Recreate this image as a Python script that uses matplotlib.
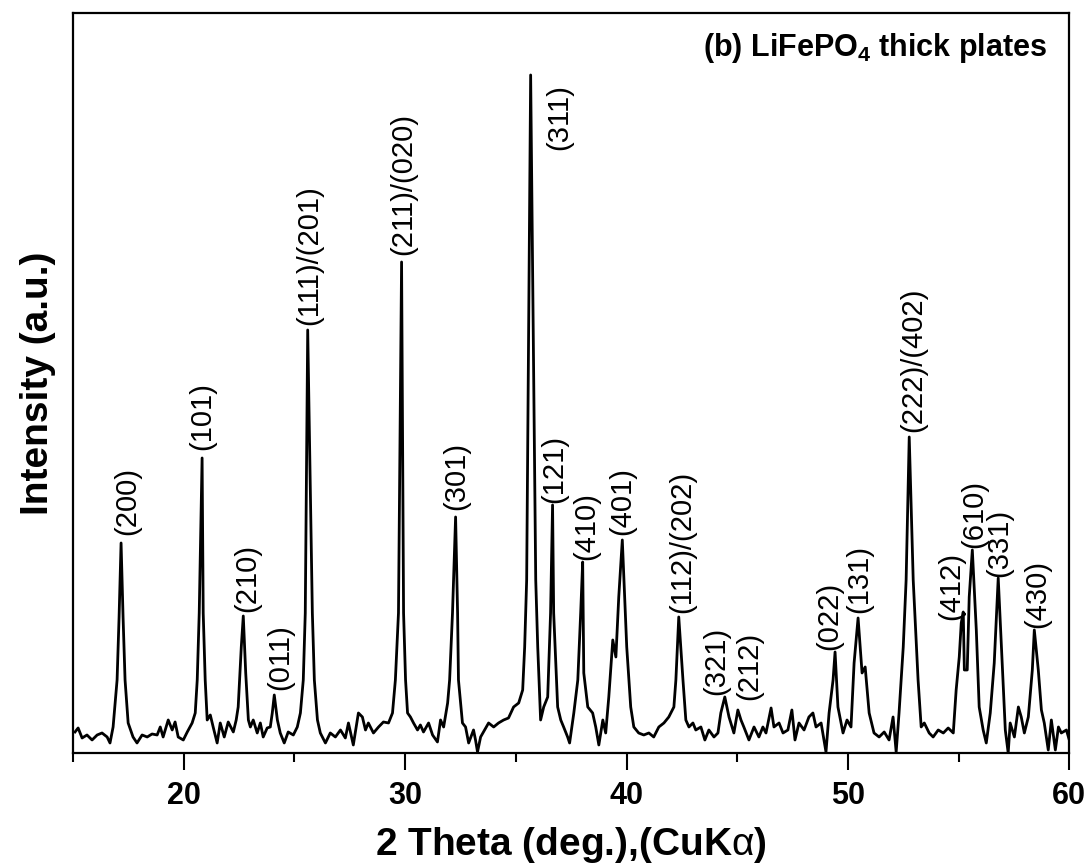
import matplotlib
matplotlib.use("Agg")
import matplotlib.pyplot as plt
from matplotlib.ticker import MultipleLocator

plt.rcParams['font.family'] = ['Liberation Sans', 'DejaVu Sans']
plt.rcParams['mathtext.fontset'] = 'custom'
plt.rcParams['mathtext.rm'] = 'Liberation Sans:bold'
plt.rcParams['mathtext.it'] = 'Liberation Sans'

# XRD pattern (2 theta in degrees, intensity in a.u.)
two_theta = [
    15.09, 15.23, 15.41, 15.63, 15.86, 16.09, 16.31, 16.54, 16.67, 16.81,
    16.99, 17.08, 17.17, 17.26, 17.35, 17.49, 17.71, 17.89, 18.12, 18.35,
    18.57, 18.80, 18.94, 19.07, 19.30, 19.48, 19.61, 19.75, 19.98, 20.16,
    20.38, 20.52, 20.61, 20.70, 20.83, 20.88, 20.97, 21.06, 21.20, 21.33,
    21.51, 21.65, 21.83, 22.01, 22.24, 22.37, 22.46, 22.60, 22.69, 22.80,
    22.92, 23.01, 23.14, 23.32, 23.46, 23.59, 23.77, 23.91, 24.00, 24.09,
    24.23, 24.36, 24.54, 24.72, 24.95, 25.13, 25.27, 25.40, 25.49, 25.60,
    25.81, 25.90, 26.04, 26.17, 26.40, 26.62, 26.85, 27.08, 27.30, 27.44,
    27.66, 27.89, 28.07, 28.21, 28.34, 28.57, 28.80, 29.02, 29.25, 29.43,
    29.56, 29.70, 29.84, 29.93, 30.02, 30.11, 30.24, 30.38, 30.56, 30.69,
    30.83, 31.06, 31.24, 31.46, 31.60, 31.74, 31.92, 32.01, 32.14, 32.28,
    32.37, 32.41, 32.59, 32.73, 32.87, 33.09, 33.18, 33.27, 33.41, 33.54,
    33.77, 34.00, 34.22, 34.45, 34.67, 34.90, 35.13, 35.31, 35.40, 35.49,
    35.67, 35.90, 35.99, 36.12, 36.26, 36.44, 36.57, 36.66, 36.71, 36.89,
    37.03, 37.16, 37.34, 37.43, 37.62, 37.80, 37.93, 38.02, 38.07, 38.25,
    38.47, 38.61, 38.75, 38.93, 39.06, 39.20, 39.38, 39.52, 39.65, 39.81,
    40.01, 40.19, 40.33, 40.55, 40.78, 41.01, 41.23, 41.46, 41.69, 41.91,
    42.14, 42.23, 42.36, 42.55, 42.68, 42.82, 43.00, 43.13, 43.36, 43.54,
    43.72, 43.95, 44.13, 44.26, 44.44, 44.63, 44.85, 45.03, 45.17, 45.30,
    45.53, 45.76, 45.98, 46.16, 46.30, 46.53, 46.66, 46.89, 47.07, 47.29,
    47.47, 47.61, 47.79, 48.02, 48.24, 48.42, 48.56, 48.79, 49.01, 49.15,
    49.33, 49.42, 49.55, 49.78, 49.96, 50.14, 50.28, 50.46, 50.64, 50.78,
    50.96, 51.18, 51.41, 51.64, 51.86, 52.04, 52.18, 52.31, 52.50, 52.63,
    52.77, 52.95, 53.17, 53.31, 53.45, 53.67, 53.85, 54.08, 54.31, 54.53,
    54.76, 54.89, 55.03, 55.12, 55.21, 55.26, 55.39, 55.48, 55.62, 55.80,
    55.93, 56.11, 56.25, 56.43, 56.61, 56.79, 56.97, 57.11, 57.24, 57.33,
    57.52, 57.70, 57.83, 57.97, 58.15, 58.33, 58.42, 58.60, 58.74, 58.87,
    59.05, 59.19, 59.37, 59.51, 59.64, 59.87, 60.00,
]
intensity = [
    21, 25, 15, 18, 13, 18, 20, 16, 10, 26,
    73, 136, 210, 136, 73, 30, 16, 10, 18, 16,
    19, 18, 26, 16, 33, 23, 31, 16, 13, 21,
    30, 40, 73, 140, 295, 140, 73, 33, 38, 26,
    10, 30, 16, 31, 21, 33, 46, 106, 137, 80,
    33, 26, 33, 20, 30, 16, 25, 26, 40, 58,
    33, 20, 10, 21, 18, 26, 40, 73, 140, 423,
    140, 73, 33, 20, 10, 20, 16, 23, 15, 30,
    8, 40, 36, 23, 30, 20, 26, 31, 30, 40,
    73, 140, 491, 140, 73, 40, 36, 30, 23, 28,
    21, 30, 18, 11, 33, 26, 50, 73, 140, 236,
    140, 73, 30, 26, 10, 23, 13, 1, 16, 21,
    30, 26, 30, 33, 35, 46, 50, 63, 106, 173,
    678, 173, 106, 33, 46, 56, 140, 248, 140, 46,
    33, 26, 16, 10, 40, 73, 140, 191, 80, 46,
    40, 26, 8, 33, 20, 56, 113, 96, 156, 213,
    106, 46, 26, 20, 18, 20, 16, 26, 30, 36,
    46, 73, 136, 73, 33, 26, 30, 23, 26, 13,
    23, 16, 20, 40, 56, 36, 20, 43, 33, 26,
    13, 26, 16, 26, 20, 45, 26, 30, 20, 23,
    43, 13, 30, 23, 36, 40, 26, 30, 1, 40,
    73, 101, 46, 20, 33, 26, 90, 135, 80, 86,
    40, 20, 16, 21, 13, 36, 1, 40, 106, 173,
    316, 173, 73, 26, 30, 20, 16, 23, 20, 25,
    20, 63, 96, 130, 141, 83, 83, 156, 203, 123,
    46, 23, 10, 40, 90, 175, 90, 23, 0, 30,
    16, 46, 36, 20, 36, 83, 123, 83, 43, 30,
    3, 33, 3, 26, 20, 23, 13,
]

# peak labels: text, 2 theta of label centre, intensity of label bottom
peak_labels = ['(200)', '(101)', '(210)', '(011)', '(111)/(201)', '(211)/(020)',
               '(301)', '(311)', '(121)', '(410)', '(401)', '(112)/(202)',
               '(321)', '(212)', '(022)', '(131)', '(222)/(402)', '(412)',
               '(610)', '(331)', '(430)']
label_x = [17.45, 20.83, 22.87, 24.36, 25.67, 29.93, 32.32, 36.95, 36.75, 38.16,
           39.83, 42.50, 44.04, 45.53, 49.15, 50.50, 52.95, 54.67, 55.71, 56.83,
           58.55]
label_y = [218, 303, 141, 63, 428, 498, 243, 603, 250, 193,
           218, 140, 58, 53, 103, 140, 321, 133, 205, 176,
           125]

fig = plt.figure(figsize=(10.9, 8.65), dpi=100)
ax = fig.add_axes([0.067, 0.1295, 0.914, 0.8555])

ax.plot(two_theta, intensity, color='black', lw=2.0)

for txt, lx, ly in zip(peak_labels, label_x, label_y):
    ax.text(lx, ly, txt, rotation=90, ha='center', va='bottom', fontsize=21)

ax.text(0.978, 0.975, r'(b) LiFePO$_{4}$ thick plates', transform=ax.transAxes,
        ha='right', va='top', fontsize=22, fontweight='bold')

ax.set_xlim(15, 60)
ax.set_ylim(0, 740)
ax.xaxis.set_major_locator(MultipleLocator(10))
ax.xaxis.set_minor_locator(MultipleLocator(5))
ax.tick_params(axis='x', which='major', direction='out', length=12.5, width=1.5,
               labelsize=22, pad=8)
ax.tick_params(axis='x', which='minor', direction='out', length=6.5, width=1.5)
for lbl in ax.get_xticklabels():
    lbl.set_fontweight('bold')
ax.set_yticks([])
for s in ax.spines.values():
    s.set_linewidth(1.6)

ax.set_xlabel(r'2 Theta (deg.),(CuK$\alpha$)', fontsize=28, fontweight='bold', labelpad=10)
ax.set_ylabel('Intensity (a.u.)', fontsize=28, fontweight='bold', labelpad=12)

fig.savefig('out.png', dpi=100)
